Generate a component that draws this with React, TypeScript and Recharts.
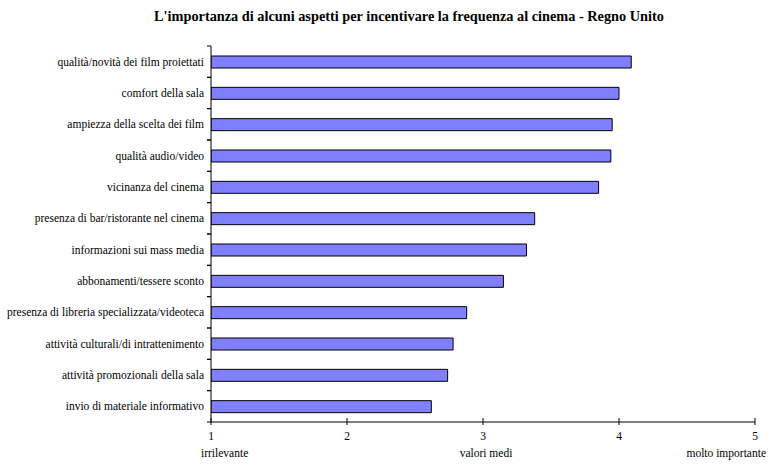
import { BarChart, Bar, XAxis, YAxis } from 'recharts';

// aspetti (dall'alto verso il basso)
const aspects = [
  'qualità/novità dei film proiettati',
  'comfort della sala',
  'ampiezza della scelta dei film',
  'qualità audio/video',
  'vicinanza del cinema',
  'presenza di bar/ristorante nel cinema',
  'informazioni sui mass media',
  'abbonamenti/tessere sconto',
  'presenza di libreria specializzata/videoteca',
  'attività culturali/di intrattenimento',
  'attività promozionali della sala',
  'invio di materiale informativo',
];

// valori medi, scala 1-5
const meanValues = [4.09, 4.0, 3.95, 3.94, 3.85, 3.38, 3.32, 3.15, 2.88, 2.78, 2.74, 2.62];

const xTicks = [1, 2, 3, 4, 5];
const scaleLabels = ['irrilevante', 'valori medi', 'molto importante'];

const title = "L'importanza di alcuni aspetti per incentivare la frequenza al cinema - Regno Unito";

const data = aspects.map((aspect, i) => ({ aspect, valore: meanValues[i] }));

const W = 772;
const H = 466;
const TOP = 46;
const X_AXIS_H = 44;
const Y_AXIS_W = 211;
const BAND = (H - TOP - X_AXIS_H) / aspects.length;
const FONT = 'Liberation Serif, Times New Roman, serif';
const textStyle = { fontFamily: FONT, fontSize: 11.5, fill: '#000' };

function AspectTick(props: any) {
  const { x, y, payload } = props;
  return (
    <g>
      <line x1={x - 4} x2={x} y1={y - BAND / 2} y2={y - BAND / 2} stroke="#000" />
      <line x1={x - 4} x2={x} y1={y + BAND / 2} y2={y + BAND / 2} stroke="#000" />
      <text x={x - 7} y={y} dy={4} textAnchor="end" style={textStyle}>
        {payload.value}
      </text>
    </g>
  );
}

function ValueTick(props: any) {
  const { x, y, payload } = props;
  const v = payload.value;
  let extra = null;
  if (v === xTicks[0]) {
    extra = <text x={x - 10} y={y + 35} textAnchor="start" style={textStyle}>{scaleLabels[0]}</text>;
  } else if (v === xTicks[2]) {
    extra = <text x={x + 3} y={y + 35} textAnchor="middle" style={textStyle}>{scaleLabels[1]}</text>;
  } else if (v === xTicks[4]) {
    extra = <text x={x + 11} y={y + 35} textAnchor="end" style={textStyle}>{scaleLabels[2]}</text>;
  }
  return (
    <g>
      <line x1={x} x2={x} y1={y - 4} y2={y + 3} stroke="#000" />
      <text x={x} y={y + 18} textAnchor="middle" style={textStyle}>{v}</text>
      {extra}
    </g>
  );
}

export default function App() {
  return (
    <div style={{ position: 'absolute', left: 0, top: 0, width: W, height: H, background: '#fff' }}>
      <div
        style={{
          position: 'absolute',
          top: 8,
          left: 23,
          width: W,
          textAlign: 'center',
          fontFamily: FONT,
          fontWeight: 'bold',
          fontSize: 14.3,
          whiteSpace: 'nowrap',
          color: '#000',
        }}
      >
        {title}
      </div>
      <BarChart
        width={W}
        height={H}
        data={data}
        layout="vertical"
        margin={{ top: TOP, right: 17, left: 0, bottom: 0 }}
        barSize={12}
      >
        <XAxis
          type="number"
          domain={[1, 5]}
          ticks={xTicks}
          allowDataOverflow
          height={X_AXIS_H}
          tickSize={0}
          tickMargin={0}
          tickLine={false}
          axisLine={{ stroke: '#000' }}
          tick={<ValueTick />}
          interval={0}
        />
        <XAxis
          xAxisId="top"
          orientation="top"
          type="number"
          domain={[1, 5]}
          height={0}
          tick={false}
          tickLine={false}
          axisLine={{ stroke: '#000' }}
        />
        <YAxis
          type="category"
          dataKey="aspect"
          width={Y_AXIS_W}
          tickSize={0}
          tickMargin={0}
          tickLine={false}
          axisLine={{ stroke: '#000' }}
          tick={<AspectTick />}
          interval={0}
        />
        <YAxis
          yAxisId="right"
          orientation="right"
          type="number"
          domain={[0, 1]}
          width={0}
          tick={false}
          tickLine={false}
          axisLine={{ stroke: '#000' }}
        />
        <Bar dataKey="valore" fill="#8080FF" stroke="#000" strokeWidth={1} isAnimationActive={false} />
      </BarChart>
    </div>
  );
}
